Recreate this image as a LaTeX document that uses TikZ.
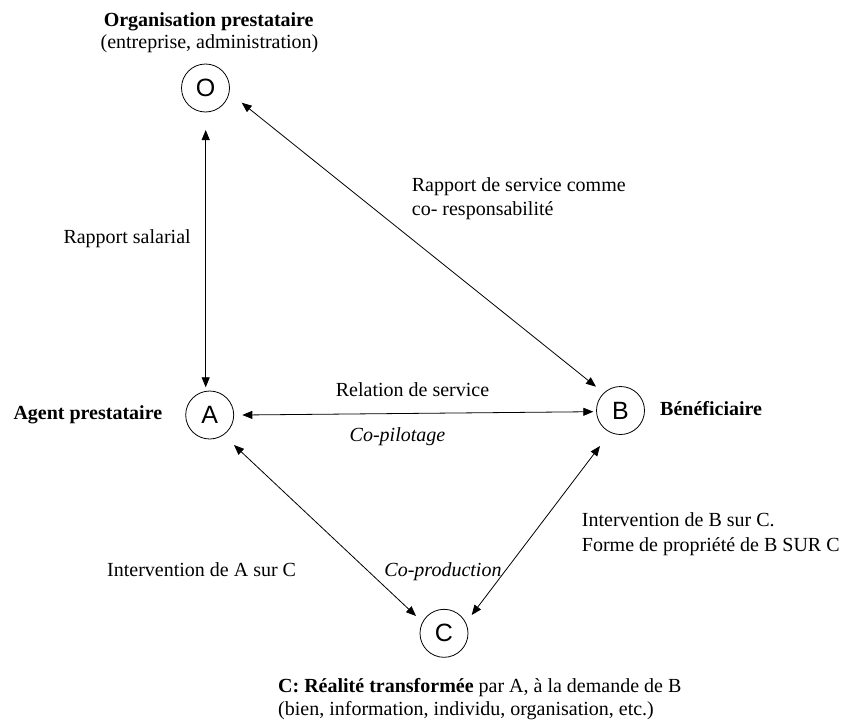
\documentclass[tikz,border=0pt]{standalone}
\usepackage{fontspec}
\setmainfont{Liberation Serif}
\newfontfamily\circfont{Liberation Sans}
\usetikzlibrary{arrows.meta,calc}
\begin{document}
\begin{tikzpicture}[x=1pt,y=-1pt,
  circ/.style={circle,draw,line width=0.8pt,minimum size=48pt,inner sep=0pt,font=\circfont\fontsize{25}{25}\selectfont},
  lbl/.style={inner sep=0pt,font=\fontsize{20}{23}\selectfont},
  lblb/.style={inner sep=0pt,font=\fontsize{20}{23}\selectfont\bfseries},
  lbli/.style={inner sep=0pt,font=\fontsize{20}{23}\selectfont\itshape},
  conn/.style={{Triangle[length=10pt,width=8pt]}-{Triangle[length=10pt,width=8pt]},line width=0.8pt}]
\useasboundingbox (0,0) rectangle (842,720);
% circles
\node[circ] (O) at (205.5,88) {O};
\node[circ] (A) at (209.7,415) {A};
\node[circ] (B) at (620.5,410.5) {B};
\node[circ] (C) at (444,633.3) {C};
% connectors
\draw[conn] ($(O)+(0.2,42)$) -- ($(A)+(-4,-27.7)$);
\draw[conn] ($(O)+(36.2,14.7)$) -- ($(B)+(-24.5,-23.8)$);
\draw[conn] ($(A)+(32.6,0)$) -- ($(B)+(-27.2,1.2)$);
\draw[conn] ($(A)+(24.3,30)$) -- ($(C)+(-28,-17.3)$);
\draw[conn] ($(B)+(-20.5,35.5)$) -- ($(C)+(27.7,-18.3)$);
% labels
\node[lblb,anchor=base] (t1) at (208.7,26.7) {Organisation prestataire};
\node[lbl,anchor=base] (t2) at (209.5,48.5) {(entreprise, administration)};
\node[lbl,anchor=base west] (t3) at (63.3,243) {Rapport salarial};
\node[lbl,anchor=base west] (t4) at (411.7,191.7) {Rapport de service comme};
\node[lbl,anchor=base west] (t5) at (411.7,215) {co- responsabilité};
\node[lbl,anchor=base] (t6) at (412.5,396.7) {Relation de service};
\node[lbli,anchor=base] (t7) at (397.5,441.7) {Co-pilotage};
\node[lblb,anchor=base west] (t8) at (13.3,419.3) {Agent prestataire};
\node[lblb,anchor=base west] (t9) at (660,415) {Bénéficiaire};
\node[lbl,anchor=base west] (t10) at (107,576) {Intervention de A sur C};
\node[lbli,anchor=base] (t11) at (443,576) {Co-production};
\node[lbl,anchor=base west] (t12) at (581.7,526.7) {Intervention de B sur C.};
\node[lbl,anchor=base west] (t13) at (581.7,551.7) {Forme de propriété de B SUR C};
\node[lbl,anchor=base west] (t14) at (278,692) {\textbf{C: Réalité transformée} par A, à la demande de B};
\node[lbl,anchor=base west] (t15) at (278,715) {(bien, information, individu, organisation, etc.)};
\end{tikzpicture}
\end{document}
